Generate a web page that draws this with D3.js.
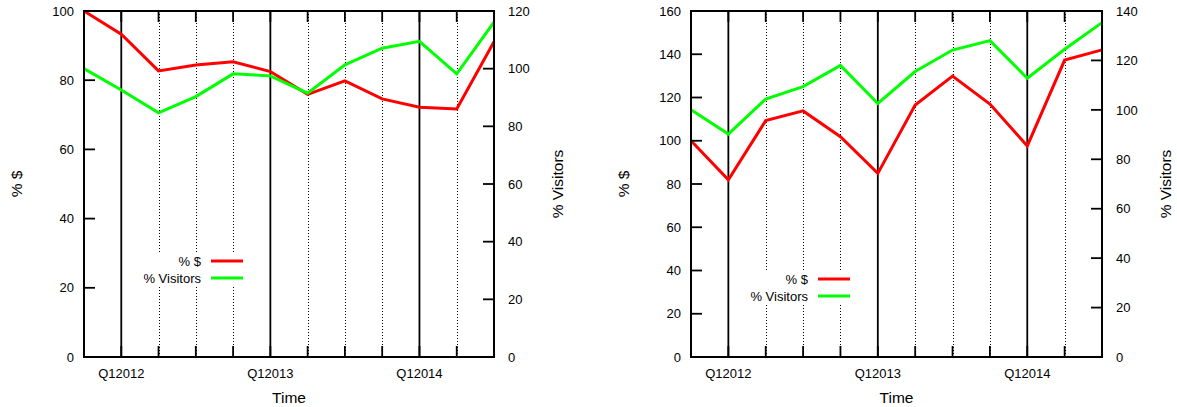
<!DOCTYPE html>
<html>
<head>
<meta charset="utf-8">
<script src="https://cdn.jsdelivr.net/npm/d3@7"></script>
<style>
  html, body { margin: 0; padding: 0; background: #fff; }
  svg { display: block; font-family: "Liberation Sans", Arial, Helvetica, sans-serif; }
</style>
</head>
<body>
<svg id="chart" width="1177" height="407"></svg>
<script>
// ---- data ----
const quarters = ["Q42011","Q12012","Q22012","Q32012","Q42012","Q12013","Q22013","Q32013","Q42013","Q12014","Q22014","Q32014"];
const tickLabels = ["Q12012","Q12013","Q12014"];
const seriesNames = ["% $", "% Visitors"];

const leftDollar   = [100, 93.3, 82.7, 84.4, 85.3, 82.5, 75.9, 79.8, 74.6, 72.2, 71.7, 91.1];
const leftVisitors = [100, 92.6, 84.7, 90.3, 98.2, 97.5, 91.5, 101.3, 107.1, 109.5, 98.2, 116.1];
const rightDollar   = [100, 81.9, 109.3, 113.8, 101.9, 84.9, 116.5, 129.9, 117.0, 97.6, 137.3, 142.0];
const rightVisitors = [100, 90.2, 104.4, 109.4, 118.0, 102.6, 115.5, 124.2, 128.0, 112.8, 124.5, 135.3];

const leftYTicks  = [0, 20, 40, 60, 80, 100];
const leftY2Ticks = [0, 20, 40, 60, 80, 100, 120];
const rightYTicks  = [0, 20, 40, 60, 80, 100, 120, 140, 160];
const rightY2Ticks = [0, 20, 40, 60, 80, 100, 120, 140];

// ---- layout ----
const svg = d3.select("#chart");
const colors = ["#ff0000", "#00ff00"];

function drawPanel(opts) {
  const { x0, x1, y0, y1, dollar, visitors, yTicks, y2Ticks, legendRight, legendTop } = opts;
  const g = svg.append("g");
  const x = d3.scalePoint().domain(quarters).range([x0, x1]);
  const y = d3.scaleLinear().domain([0, d3.max(yTicks)]).range([y1, y0]);
  const y2 = d3.scaleLinear().domain([0, d3.max(y2Ticks)]).range([y1, y0]);

  const inner = quarters.slice(1, -1);
  // dotted grid lines for non-Q1 quarters
  g.selectAll("line.grid").data(inner.filter(q => !q.startsWith("Q1"))).join("line")
    .attr("class", "grid")
    .attr("x1", d => Math.round(x(d)) + 0.5).attr("x2", d => Math.round(x(d)) + 0.5)
    .attr("y1", y0).attr("y2", y1)
    .attr("stroke", "#000").attr("stroke-width", 1)
    .attr("stroke-dasharray", "1,2");
  // solid lines for Q1
  g.selectAll("line.q1").data(inner.filter(q => q.startsWith("Q1"))).join("line")
    .attr("class", "q1")
    .attr("x1", d => x(d)).attr("x2", d => x(d))
    .attr("y1", y0).attr("y2", y1)
    .attr("stroke", "#000").attr("stroke-width", 1.8);

  // legend background (opaque)
  const rowH = 17;
  g.append("rect")
    .attr("x", legendRight - 62).attr("y", legendTop - 8)
    .attr("width", 106).attr("height", rowH * 2 - 1)
    .attr("fill", "#fff");

  // x ticks (bottom + top, inward)
  const tickLen = 11;
  g.selectAll("line.xtb").data(inner).join("line")
    .attr("x1", d => x(d)).attr("x2", d => x(d))
    .attr("y1", y1).attr("y2", y1 - tickLen)
    .attr("stroke", "#000").attr("stroke-width", 1.8);
  g.selectAll("line.xtt").data(inner).join("line")
    .attr("x1", d => x(d)).attr("x2", d => x(d))
    .attr("y1", y0).attr("y2", y0 + tickLen)
    .attr("stroke", "#000").attr("stroke-width", 1.8);

  // series lines
  const line = (scale) => d3.line().x((d, i) => x(quarters[i])).y(d => scale(d));
  g.append("path").datum(dollar).attr("d", line(y))
    .attr("fill", "none").attr("stroke", colors[0]).attr("stroke-width", 3)
    .attr("stroke-linejoin", "miter");
  g.append("path").datum(visitors).attr("d", line(y2))
    .attr("fill", "none").attr("stroke", colors[1]).attr("stroke-width", 3)
    .attr("stroke-linejoin", "miter");

  // border
  g.append("rect").attr("x", x0).attr("y", y0)
    .attr("width", x1 - x0).attr("height", y1 - y0)
    .attr("fill", "none").attr("stroke", "#000").attr("stroke-width", 2);

  // left y axis
  g.selectAll("line.yt").data(yTicks).join("line")
    .attr("x1", x0).attr("x2", x0 + tickLen)
    .attr("y1", d => y(d)).attr("y2", d => y(d))
    .attr("stroke", "#000").attr("stroke-width", 1.8);
  g.selectAll("text.yl").data(yTicks).join("text")
    .attr("x", x0 - 10).attr("y", d => y(d)).attr("dy", "0.36em")
    .attr("text-anchor", "end").attr("font-size", 13).attr("fill", "#000")
    .text(d => d);
  // right y2 axis
  g.selectAll("line.y2t").data(y2Ticks).join("line")
    .attr("x1", x1).attr("x2", x1 - tickLen)
    .attr("y1", d => y2(d)).attr("y2", d => y2(d))
    .attr("stroke", "#000").attr("stroke-width", 1.8);
  g.selectAll("text.y2l").data(y2Ticks).join("text")
    .attr("x", x1 + 14).attr("y", d => y2(d)).attr("dy", "0.36em")
    .attr("text-anchor", "start").attr("font-size", 13).attr("fill", "#000")
    .text(d => d);

  // x tick labels
  g.selectAll("text.xl").data(tickLabels).join("text")
    .attr("x", d => x(d)).attr("y", y1 + 21)
    .attr("text-anchor", "middle").attr("font-size", 13).attr("fill", "#000")
    .text(d => d);

  // axis titles
  const cy = (y0 + y1) / 2;
  g.append("text").attr("x", (x0 + x1) / 2).attr("y", y1 + 46)
    .attr("text-anchor", "middle").attr("font-size", 15.5).text("Time");
  g.append("text")
    .attr("transform", `translate(${x0 - 62},${cy}) rotate(-90)`)
    .attr("text-anchor", "middle").attr("font-size", 15.5).text("% $");
  g.append("text")
    .attr("transform", `translate(${x1 + 69},${cy}) rotate(-90)`)
    .attr("text-anchor", "middle").attr("font-size", 15.5).text("% Visitors");

  // legend
  seriesNames.forEach((name, i) => {
    const ly = legendTop + i * rowH;
    g.append("text").attr("x", legendRight).attr("y", ly).attr("dy", "0.36em")
      .attr("text-anchor", "end").attr("font-size", 13).text(name);
    g.append("line").attr("x1", legendRight + 10).attr("x2", legendRight + 42)
      .attr("y1", ly).attr("y2", ly)
      .attr("stroke", colors[i]).attr("stroke-width", 3);
  });
}

drawPanel({ x0: 84, x1: 494, y0: 11, y1: 357, dollar: leftDollar, visitors: leftVisitors,
  yTicks: leftYTicks, y2Ticks: leftY2Ticks, legendRight: 201, legendTop: 261 });
drawPanel({ x0: 691, x1: 1102, y0: 11, y1: 357, dollar: rightDollar, visitors: rightVisitors,
  yTicks: rightYTicks, y2Ticks: rightY2Ticks, legendRight: 808, legendTop: 279 });
</script>
</body>
</html>
